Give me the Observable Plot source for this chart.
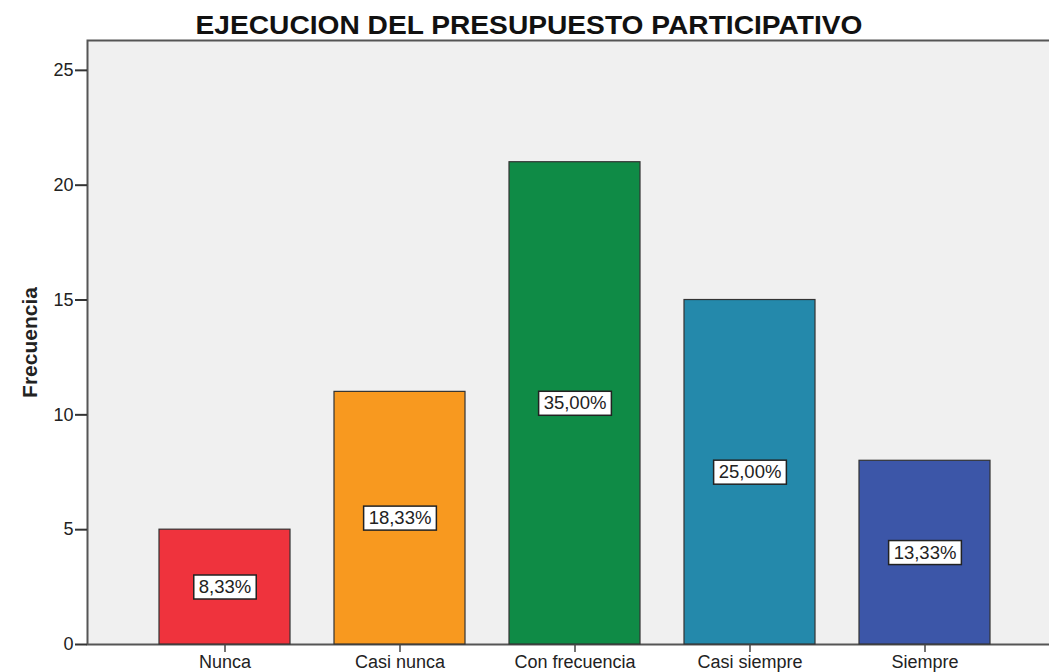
<!DOCTYPE html>
<html>
<head>
<meta charset="utf-8">
<script src="https://cdn.jsdelivr.net/npm/d3@7"></script>
<script src="https://cdn.jsdelivr.net/npm/@observablehq/plot@0.6"></script>
<style>
  html, body { margin: 0; padding: 0; background: #ffffff; overflow: hidden; }
  svg { font-family: "Liberation Sans", Arial, sans-serif; max-width: none !important; }
  g[aria-label="y-axis label"] text { font-weight: bold; font-size: 21px; }
</style>
</head>
<body>
<div id="chart"></div>
<script>
const titulo = "EJECUCION DEL PRESUPUESTO PARTICIPATIVO";
const categorias = ["Nunca", "Casi nunca", "Con frecuencia", "Casi siempre", "Siempre"];
const frecuencias = [5, 11, 21, 15, 8];
const porcentajes = ["8,33%", "18,33%", "35,00%", "25,00%", "13,33%"];
const colores = ["#ef333d", "#f8991f", "#0f8b46", "#2489ab", "#3c56a8"];
const yTicks = [0, 5, 10, 15, 20, 25];

const data = categorias.map((c, i) => ({cat: c, freq: frecuencias[i], pct: porcentajes[i]}));

const chart = Plot.plot({
  width: 1062,
  height: 672,
  marginTop: 40,
  marginBottom: 28,
  marginLeft: 87,
  marginRight: 0,
  style: {fontSize: "18px", color: "#222", background: "transparent", maxWidth: "none"},
  x: {domain: categorias, range: [135.5, 1013], paddingInner: 0.254, paddingOuter: 0.127, align: 0.5},
  y: {domain: [0, 26.3]},
  color: {domain: categorias, range: colores},
  marks: [
    Plot.frame({fill: "#f0f0f0", stroke: "#555", strokeWidth: 2}),
    Plot.barY(data, {x: "cat", y: "freq", fill: "cat", stroke: "#333", strokeWidth: 1.2}),
    Plot.text(data, {x: "cat", y: d => d.freq / 2, text: "pct", fill: "#222", fontSize: 18.5, className: "porcentajes"}),
    Plot.axisX({tickSize: 8, tickPadding: 3, label: null, stroke: "#444", strokeWidth: 1.5}),
    Plot.axisY({ticks: yTicks, tickSize: 12, tickPadding: 2, label: "Frecuencia", labelAnchor: "center", labelArrow: "none", labelOffset: 65, stroke: "#333", strokeWidth: 2, fontSize: 18}),
    Plot.text([titulo], {frameAnchor: "top", text: d => d, dx: -46, dy: -7, lineAnchor: "bottom", fill: "#111", fontSize: 25, fontWeight: "bold", className: "titulo"})
  ]
});

document.getElementById("chart").append(chart);

const textGroups = chart.querySelectorAll('g[aria-label="text"]');
const lblGroup = chart.querySelector('.porcentajes') || textGroups[0];
const titleGroup = chart.querySelector('.titulo') || textGroups[1];

// white boxes with dark border behind the percentage labels
if (lblGroup) lblGroup.querySelectorAll('text').forEach(t => {
  const b = t.getBBox();
  const r = document.createElementNS("http://www.w3.org/2000/svg", "rect");
  r.setAttribute("x", b.x - 5);
  r.setAttribute("y", b.y - 1);
  r.setAttribute("width", b.width + 10);
  r.setAttribute("height", b.height + 3);
  r.setAttribute("fill", "#ffffff");
  r.setAttribute("stroke", "#222");
  r.setAttribute("stroke-width", "1.5");
  if (t.getAttribute("transform")) r.setAttribute("transform", t.getAttribute("transform"));
  t.parentNode.insertBefore(r, t);
});

// stretch title to its width in the reference
if (titleGroup) {
  const tt = titleGroup.querySelector('text');
  if (tt) { tt.setAttribute("textLength", "667"); tt.setAttribute("lengthAdjust", "spacingAndGlyphs"); }
}
</script>
</body>
</html>
